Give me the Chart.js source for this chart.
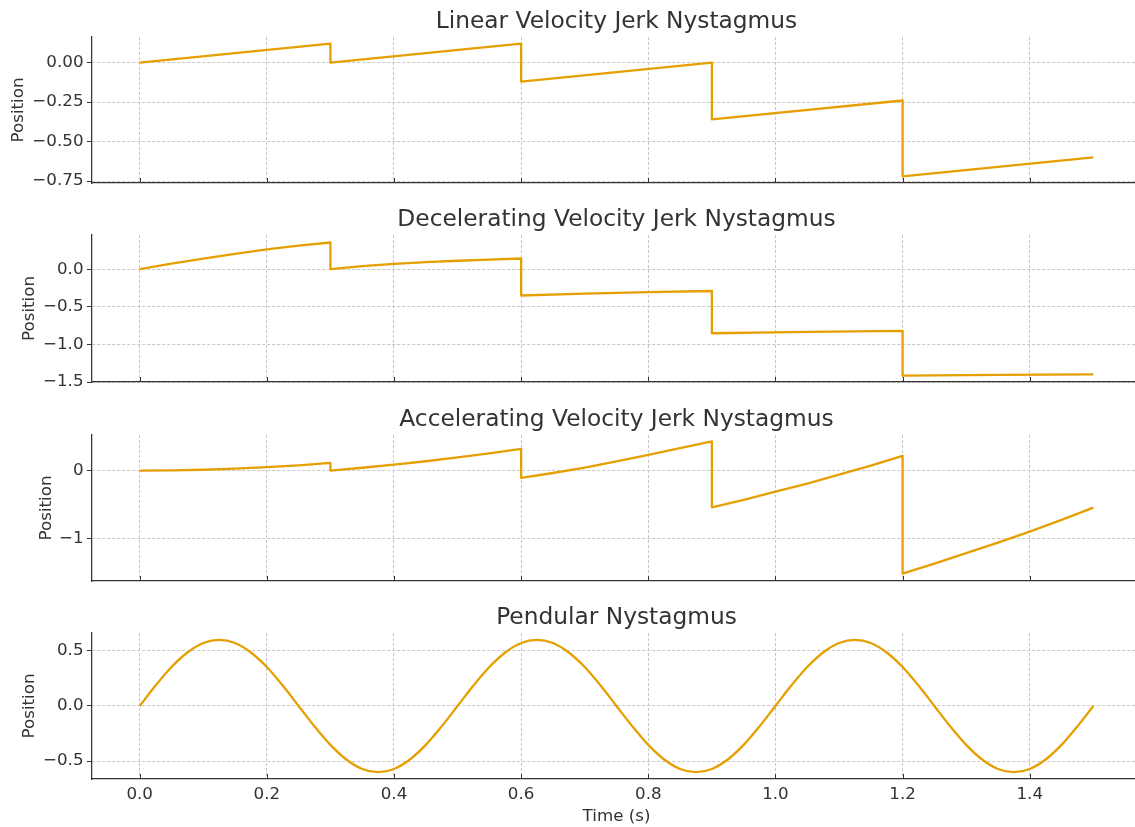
<!DOCTYPE html>
<html>
<head>
<meta charset="utf-8">
<title>Nystagmus waveforms</title>
<script src="https://cdn.jsdelivr.net/npm/chart.js@4.4.1/dist/chart.umd.min.js"></script>
<style>
  html, body { margin: 0; padding: 0; background: #fff; overflow: hidden; width: 1135px; height: 827px; }
  canvas { position: absolute; left: 0; }
</style>
</head>
<body>
<canvas id="linearChart"></canvas>
<canvas id="decelChart"></canvas>
<canvas id="accelChart"></canvas>
<canvas id="pendularChart"></canvas>
<script>
// Shared time axis ticks (s)
const timeTicks = [0.0, 0.2, 0.4, 0.6, 0.8, 1.0, 1.2, 1.4];

// Linear velocity jerk nystagmus: slow drift, then fast reset
const linearTime = [0, 0.3, 0.3, 0.6, 0.6, 0.9, 0.9, 1.2, 1.2, 1.5];
const linearPos  = [0, 0.12, 0, 0.12, -0.12, 0, -0.36, -0.24, -0.72, -0.60];
const linearTicks = [-0.75, -0.5, -0.25, 0];
const linearTickLabels = ['\u22120.75', '\u22120.50', '\u22120.25', '0.00'];

// Decelerating velocity jerk nystagmus
const decelTime = [0, 0.05, 0.1, 0.15, 0.2, 0.25, 0.3,
                   0.3, 0.35, 0.4, 0.45, 0.5, 0.55, 0.6,
                   0.6, 0.7, 0.8, 0.9,
                   0.9, 1.05, 1.2,
                   1.2, 1.35, 1.5];
const decelPos  = [0, 0.075, 0.14, 0.205, 0.262, 0.312, 0.355,
                   0, 0.04, 0.07, 0.093, 0.112, 0.128, 0.142,
                   -0.35, -0.324, -0.306, -0.29,
                   -0.852, -0.834, -0.82,
                   -1.414, -1.405, -1.398];
const decelTicks = [-1.5, -1.0, -0.5, 0];
const decelTickLabels = ['\u22121.5', '\u22121.0', '\u22120.5', '0.0'];

// Accelerating velocity jerk nystagmus
const accelTime = [0, 0.05, 0.1, 0.15, 0.2, 0.25, 0.3,
                   0.3, 0.35, 0.4, 0.45, 0.5, 0.55, 0.6,
                   0.6, 0.65, 0.7, 0.75, 0.8, 0.85, 0.9,
                   0.9, 0.95, 1.0, 1.05, 1.1, 1.15, 1.2,
                   1.2, 1.25, 1.3, 1.35, 1.4, 1.45, 1.5];
const accelPos  = [0, 0.003, 0.013, 0.028, 0.05, 0.078, 0.113,
                   0, 0.042, 0.088, 0.138, 0.195, 0.255, 0.32,
                   -0.107, -0.035, 0.045, 0.135, 0.232, 0.33, 0.43,
                   -0.54, -0.43, -0.31, -0.19, -0.06, 0.075, 0.216,
                   -1.515, -1.37, -1.215, -1.06, -0.897, -0.725, -0.544];
const accelTicks = [-1, 0];
const accelTickLabels = ['\u22121', '0'];

// Pendular nystagmus: smooth oscillation
const pendTime = [0, 0.025, 0.05, 0.075, 0.1, 0.125, 0.15, 0.175, 0.2, 0.225,
                  0.25, 0.275, 0.3, 0.325, 0.35, 0.375, 0.4, 0.425, 0.45, 0.475,
                  0.5, 0.525, 0.55, 0.575, 0.6, 0.625, 0.65, 0.675, 0.7, 0.725,
                  0.75, 0.775, 0.8, 0.825, 0.85, 0.875, 0.9, 0.925, 0.95, 0.975,
                  1.0, 1.025, 1.05, 1.075, 1.1, 1.125, 1.15, 1.175, 1.2, 1.225,
                  1.25, 1.275, 1.3, 1.325, 1.35, 1.375, 1.4, 1.425, 1.45, 1.475, 1.5];
const pendPos  = [0, 0.185, 0.353, 0.485, 0.571, 0.6, 0.571, 0.485, 0.353, 0.185,
                  0, -0.185, -0.353, -0.485, -0.571, -0.6, -0.571, -0.485, -0.353, -0.185,
                  0, 0.185, 0.353, 0.485, 0.571, 0.6, 0.571, 0.485, 0.353, 0.185,
                  0, -0.185, -0.353, -0.485, -0.571, -0.6, -0.571, -0.485, -0.353, -0.185,
                  0, 0.185, 0.353, 0.485, 0.571, 0.6, 0.571, 0.485, 0.353, 0.185,
                  0, -0.185, -0.353, -0.485, -0.571, -0.6, -0.571, -0.485, -0.353, -0.185, 0];
const pendTicks = [-0.5, 0, 0.5];
const pendTickLabels = ['\u22120.5', '0.0', '0.5'];

const FONT = "'DejaVu Sans', 'Liberation Sans', sans-serif";
const TEXT = '#333333';
const LINE = '#E69F00';
const GRID = '#c6c6c6';

// x ticks on this style point into the plot area
const inwardXTicks = {
  id: 'inwardXTicks',
  afterDraw(chart) {
    const sx = chart.scales.x;
    const ctx = chart.ctx;
    const bottom = chart.chartArea.bottom;
    ctx.save();
    ctx.strokeStyle = TEXT;
    ctx.lineWidth = 1;
    sx.ticks.forEach(t => {
      const px = Math.round(sx.getPixelForValue(t.value)) + 0.5;
      ctx.beginPath();
      ctx.moveTo(px, bottom);
      ctx.lineTo(px, bottom - 5);
      ctx.stroke();
    });
    ctx.restore();
  }
};

function panel(id, p) {
  const canvas = document.getElementById(id);
  canvas.width = 1150;
  canvas.height = p.height;
  canvas.style.top = p.top + 'px';
  return new Chart(canvas, {
    type: 'line',
    data: {
      datasets: [{
        data: p.time.map((t, i) => ({ x: t, y: p.pos[i] })),
        borderColor: LINE,
        borderWidth: 2.3,
        borderJoinStyle: 'round',
        pointRadius: 0,
        fill: false,
        tension: 0,
        cubicInterpolationMode: p.smooth ? 'monotone' : 'default'
      }]
    },
    options: {
      responsive: false,
      animation: false,
      devicePixelRatio: 1,
      events: [],
      layout: { padding: { left: 0, right: 9, top: 0, bottom: 0 } },
      plugins: {
        legend: { display: false },
        tooltip: { enabled: false },
        title: {
          display: true,
          text: p.title,
          fullSize: false,
          color: TEXT,
          font: { family: FONT, size: 23.3, weight: 'normal', lineHeight: 1.2 },
          padding: { top: 8, bottom: 1 }
        }
      },
      scales: {
        x: {
          type: 'linear',
          min: -0.075,
          max: 1.575,
          afterBuildTicks: s => { s.ticks = timeTicks.map(v => ({ value: v })); },
          afterFit: s => { s.height = p.xHeight; },
          ticks: {
            display: p.showX,
            autoSkip: false,
            maxRotation: 0,
            padding: 6,
            color: TEXT,
            font: { family: FONT, size: 16.7 },
            callback: v => Number(v).toFixed(1)
          },
          grid: { color: GRID, lineWidth: 1, drawTicks: false },
          border: { display: true, color: TEXT, width: 1.25, dash: [3, 2] },
          title: {
            display: p.showX,
            text: 'Time (s)',
            color: TEXT,
            font: { family: FONT, size: 16.7, lineHeight: 1.2 },
            padding: { top: 0, bottom: 0 }
          }
        },
        y: {
          min: p.yMin,
          max: p.yMax,
          afterBuildTicks: s => { s.ticks = p.ticks.map(v => ({ value: v })); },
          afterFit: s => { s.width = 92; },
          ticks: {
            padding: 3.5,
            color: TEXT,
            font: { family: FONT, size: 16.7 },
            callback: (v, i) => p.tickLabels[i]
          },
          grid: { color: GRID, lineWidth: 1, tickColor: TEXT, tickLength: 5, tickWidth: 1, tickBorderDash: [] },
          border: { display: true, color: TEXT, width: 1.25, dash: [3, 2] },
          title: {
            display: true,
            text: 'Position',
            color: TEXT,
            font: { family: FONT, size: 16.7, lineHeight: 1.2 },
            padding: { top: p.yTitlePad, bottom: 0 }
          }
        }
      }
    },
    plugins: [inwardXTicks]
  });
}

panel('linearChart', {
  title: 'Linear Velocity Jerk Nystagmus',
  time: linearTime, pos: linearPos, ticks: linearTicks, tickLabels: linearTickLabels,
  yMin: -0.762, yMax: 0.162, top: 0, height: 199, xHeight: 16, showX: false, yTitlePad: 8.5, smooth: false
});
panel('decelChart', {
  title: 'Decelerating Velocity Jerk Nystagmus',
  time: decelTime, pos: decelPos, ticks: decelTicks, tickLabels: decelTickLabels,
  yMin: -1.5, yMax: 0.455, top: 198, height: 200, xHeight: 16, showX: false, yTitlePad: 20, smooth: false
});
panel('accelChart', {
  title: 'Accelerating Velocity Jerk Nystagmus',
  time: accelTime, pos: accelPos, ticks: accelTicks, tickLabels: accelTickLabels,
  yMin: -1.625, yMax: 0.525, top: 398, height: 199, xHeight: 16, showX: false, yTitlePad: 36.5, smooth: false
});
panel('pendularChart', {
  title: 'Pendular Nystagmus',
  time: pendTime, pos: pendPos, ticks: pendTicks, tickLabels: pendTickLabels,
  yMin: -0.662, yMax: 0.662, top: 596, height: 231, xHeight: 48, showX: true, yTitlePad: 20, smooth: true
});
</script>
</body>
</html>
